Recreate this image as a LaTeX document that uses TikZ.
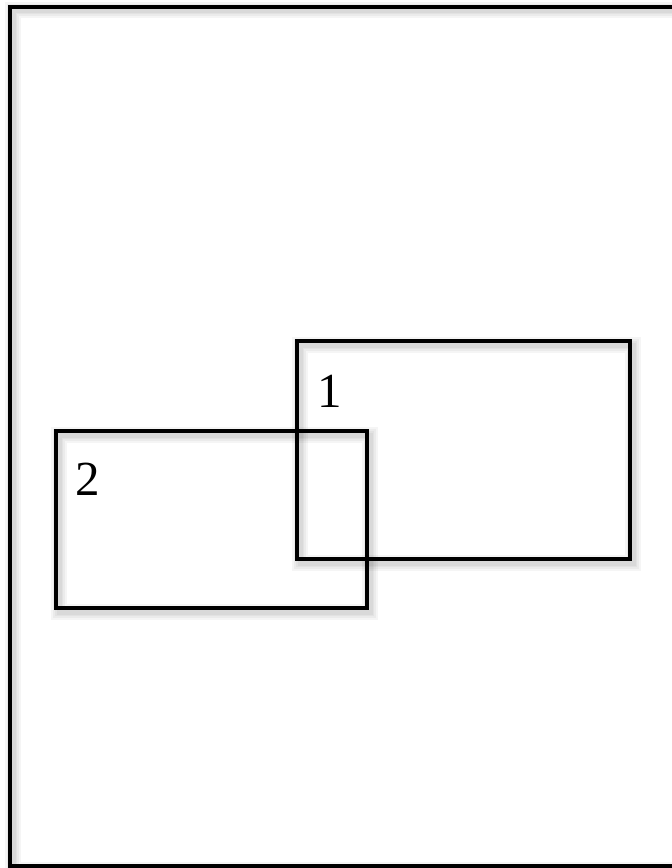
\documentclass[tikz,border=0pt]{standalone}
\usepackage{fontspec}
\setmainfont{Liberation Serif}
\begin{document}
\begin{tikzpicture}[x=1pt,y=-1pt,
  frame/.style={draw=black,line width=4pt,fill=none},
  lbl/.style={font=\fontsize{49}{49}\selectfont,inner sep=0pt,anchor=center}]
\useasboundingbox (0,0) rectangle (672,868);
% soft shadows
\foreach \w in {16,12,8,5}{
  \draw[black,opacity=0.04,line width=\w pt] (13,10) rectangle (680,870);
  \draw[black,opacity=0.04,line width=\w pt] (300,345) rectangle (633,563);
  \draw[black,opacity=0.04,line width=\w pt] (59,435) rectangle (370,612);
}
% frames
\draw[frame] (10,6.5) rectangle (676,865.5);
\draw[frame] (297,341) rectangle (630,559);
\draw[frame] (56,431) rectangle (367,608);
\node[lbl] (t1) at (330,391) {1};
\node[lbl] (t2) at (88,479) {2};
\end{tikzpicture}
\end{document}
